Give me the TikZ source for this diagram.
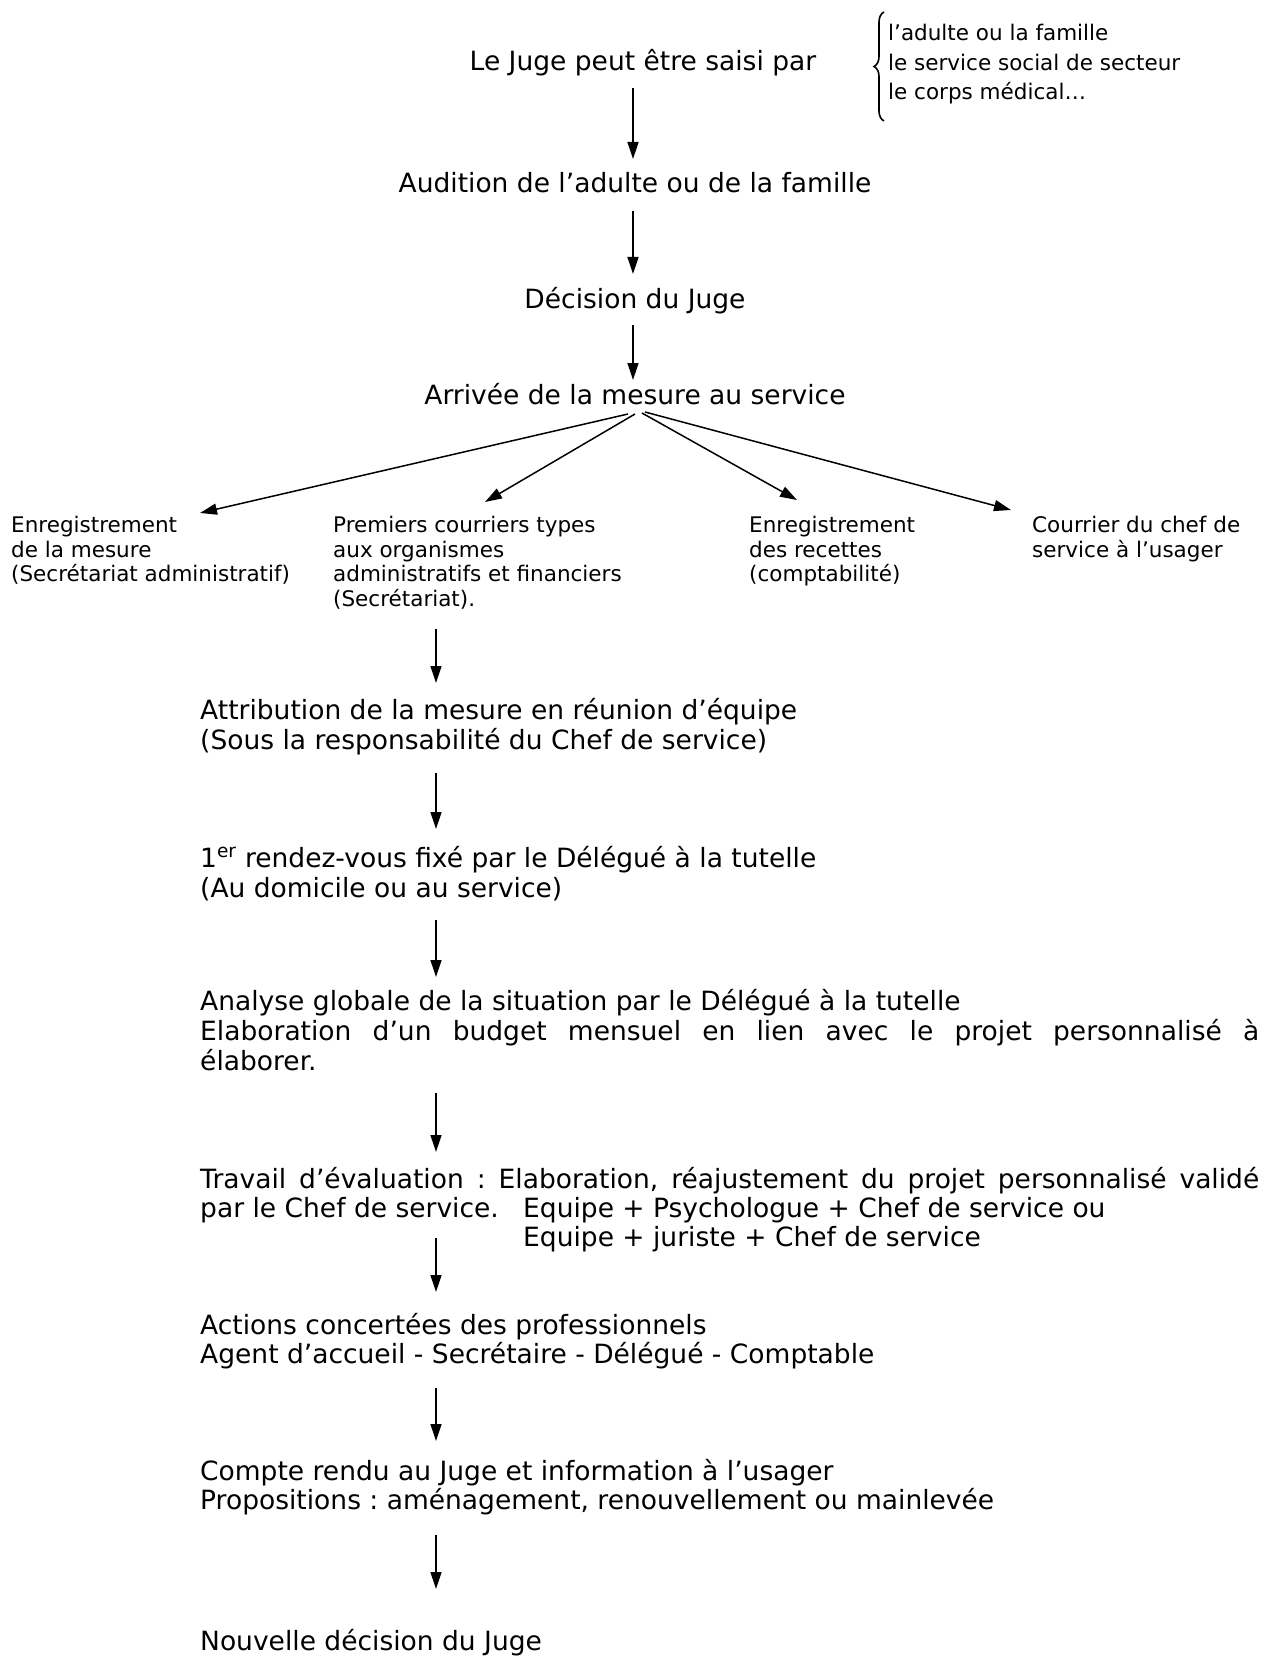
\documentclass[tikz,border=0pt]{standalone}
\usepackage{fontspec}
\setmainfont{DejaVu Sans}
\usetikzlibrary{arrows.meta,decorations.pathreplacing}
\begin{document}
\frenchspacing
\begin{tikzpicture}[x=1pt,y=-1pt,
  big/.style={anchor=base west,inner sep=0pt,font=\fontsize{26.5}{29.5}\selectfont},
  small/.style={anchor=base west,inner sep=0pt,font=\fontsize{21.5}{24.5}\selectfont},
  arr/.style={line width=1.3pt,-{Triangle[length=17pt,width=11pt]}},
  brarr/.style={line width=1.5pt,-{Triangle[length=17pt,width=11pt]}},
]
\useasboundingbox (0,0) rectangle (1261,1680);
% top
\node[big,anchor=base] (juge) at (643,71) {Le Juge peut être saisi par};
\draw[line width=1.6pt,decorate,decoration={brace,amplitude=10pt}] (884,121) -- (884,12);
\node[small] (l1) at (888,41) {l’adulte ou la famille};
\node[small] (l2) at (888,71) {le service social de secteur};
\node[small] (l3) at (888,100) {le corps médical…};
\node[big,anchor=base] (aud) at (635,193) {Audition de l’adulte ou de la famille};
\node[big,anchor=base] (dec) at (635,308) {Décision du Juge};
\node[big,anchor=base] (arv) at (635,404) {Arrivée de la mesure au service};
\coordinate (a1s) at (633,88);  \coordinate (a1e) at (633,159);
\coordinate (a2s) at (633,211); \coordinate (a2e) at (633,274);
\coordinate (a3s) at (633,325); \coordinate (a3e) at (633,380);
\draw[arr] (a1s) -- (a1e);
\draw[arr] (a2s) -- (a2e);
\draw[arr] (a3s) -- (a3e);
% branches
\coordinate (bl1) at (628,414);
\coordinate (bl2) at (635,414);
\coordinate (br1) at (642,413);
\coordinate (br2) at (645,412);
\coordinate (t1) at (200,513);
\coordinate (t2) at (485,502);
\coordinate (t3) at (797,500);
\coordinate (t4) at (1011,510);
\draw[brarr] (bl1) -- (t1);
\draw[brarr] (bl2) -- (t2);
\draw[brarr] (br1) -- (t3);
\draw[brarr] (br2) -- (t4);
\node[small] (b1a) at (11,532) {Enregistrement};
\node[small] (b1b) at (11,557) {de la mesure};
\node[small] (b1c) at (11,581) {(Secrétariat administratif)};
\node[small] (b2a) at (333,532) {Premiers courriers types};
\node[small] (b2b) at (333,557) {aux organismes};
\node[small] (b2c) at (333,581) {administratifs et financiers};
\node[small] (b2d) at (333,606) {(Secrétariat).};
\node[small] (b3a) at (749,532) {Enregistrement};
\node[small] (b3b) at (749,557) {des recettes};
\node[small] (b3c) at (749,581) {(comptabilité)};
\node[small] (b4a) at (1032,532) {Courrier du chef de};
\node[small] (b4b) at (1032,557) {service à l’usager};
% lower column
\node[big] (att1) at (200,719) {Attribution de la mesure en réunion d’équipe};
\node[big] (att2) at (200,749) {(Sous la responsabilité du Chef de service)};
\node[big] (rdv1) at (200,867) {1\textsuperscript{er} rendez-vous fixé par le Délégué à la tutelle};
\node[big] (rdv2) at (200,897) {(Au domicile ou au service)};
\node[big] (ana1) at (200,1010) {Analyse globale de la situation par le Délégué à la tutelle};
\node[big] (ana2) at (200,1040) {\makebox[1059pt][s]{Elaboration d’un budget mensuel en lien avec le projet personnalisé à}};
\node[big] (ana3) at (200,1070) {élaborer.};
\node[big] (tra1) at (200,1188) {\makebox[1059pt][s]{Travail d’évaluation : Elaboration, réajustement du projet personnalisé validé}};
\node[big] (tra2) at (200,1217) {par le Chef de service.};
\node[big] (tra3) at (523,1217) {Equipe + Psychologue + Chef de service ou};
\node[big] (tra4) at (523,1246) {Equipe + juriste + Chef de service};
\node[big] (act1) at (200,1334) {Actions concertées des professionnels};
\node[big] (act2) at (200,1363) {Agent d’accueil - Secrétaire - Délégué - Comptable};
\node[big] (cr1) at (200,1480) {Compte rendu au Juge et information à l’usager};
\node[big] (cr2) at (200,1509) {Propositions : aménagement, renouvellement ou mainlevée};
\node[big] (nou) at (200,1650) {Nouvelle décision du Juge};
\coordinate (a4s) at (436,629);  \coordinate (a4e) at (436,683);
\coordinate (a5s) at (436,773);  \coordinate (a5e) at (436,829);
\coordinate (a6s) at (436,920);  \coordinate (a6e) at (436,977);
\coordinate (a7s) at (436,1093); \coordinate (a7e) at (436,1152);
\coordinate (a8s) at (436,1238); \coordinate (a8e) at (436,1292);
\coordinate (a9s) at (436,1388); \coordinate (a9e) at (436,1441);
\coordinate (a10s) at (436,1535); \coordinate (a10e) at (436,1589);
\foreach \i in {4,...,10} {\draw[arr] (a\i s) -- (a\i e);}
\end{tikzpicture}
\end{document}
